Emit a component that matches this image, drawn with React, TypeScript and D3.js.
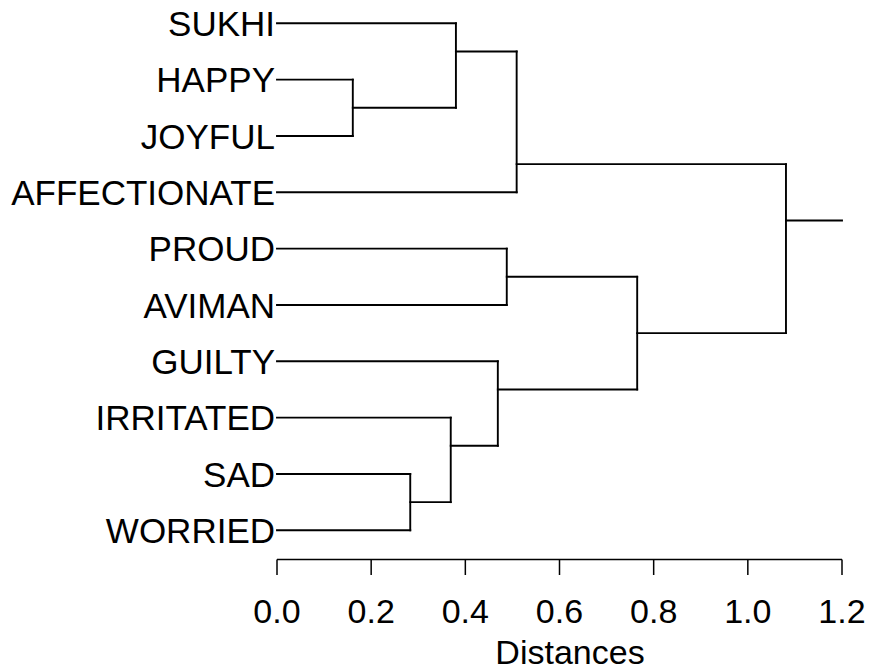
import React from "react";
import * as d3 from "d3";

const leafNames = ["SUKHI", "HAPPY", "JOYFUL", "AFFECTIONATE", "PROUD", "AVIMAN", "GUILTY", "IRRITATED", "SAD", "WORRIED"];
// merges m0..m8: left child, right child, joining distance
const mergeLeft = ["HAPPY", "SUKHI", "m1", "PROUD", "SAD", "IRRITATED", "GUILTY", "m3", "m2"];
const mergeRight = ["JOYFUL", "m0", "AFFECTIONATE", "AVIMAN", "WORRIED", "m4", "m5", "m6", "m7"];
const mergeHeight = [0.161, 0.38, 0.509, 0.488, 0.283, 0.369, 0.469, 0.765, 1.081];
const tickValues = [0, 0.2, 0.4, 0.6, 0.8, 1.0, 1.2];
const axisTitle = "Distances";

const W = 873;
const H = 672;
const FONT = "'Liberation Sans', Arial, Helvetica, sans-serif";

type Node = { id: string; height: number; y: number; first: number; last: number };

export default function App() {
  const x = d3.scaleLinear().domain([0, 1.2]).range([277, 842]);
  const y = d3.scaleLinear().domain([0, leafNames.length - 1]).range([23.3, 530.3]);

  const nodes = new Map<string, Node>();
  leafNames.forEach((n, i) => nodes.set(n, { id: n, height: 0, y: y(i), first: i, last: i }));
  const segs: [number, number, number, number][] = [];
  let root: Node | null = null;
  mergeHeight.forEach((h, i) => {
    const a = nodes.get(mergeLeft[i])!;
    const b = nodes.get(mergeRight[i])!;
    const node: Node = { id: "m" + i, height: h, y: y(a.last + 0.5), first: a.first, last: b.last };
    nodes.set(node.id, node);
    segs.push([x(a.height), a.y, x(h), a.y]);
    segs.push([x(b.height), b.y, x(h), b.y]);
    segs.push([x(h), a.y, x(h), b.y]);
    root = node;
  });
  if (root) {
    const r = root as Node;
    segs.push([x(r.height), r.y, x(x.domain()[1]), r.y]);
  }

  const axisY = 559.5;
  const [x0, x1] = x.range();

  return (
    <svg width={W} height={H} style={{ position: "absolute", left: 0, top: 0, background: "#fff" }} fontFamily={FONT}>
      <rect width={W} height={H} fill="#fff" />
      <g stroke="#000" strokeWidth={1.9} fill="none" strokeLinecap="square">
        {segs.map((s, i) => (
          <line key={i} x1={s[0]} y1={s[1]} x2={s[2]} y2={s[3]} />
        ))}
      </g>
      {leafNames.map((n, i) => (
        <text key={n} x={275} y={y(i)} dy="0.36em" textAnchor="end" fontSize={35} fill="#000">
          {n}
        </text>
      ))}
      <g stroke="#000" strokeWidth={1.5} fill="none">
        <line x1={x0} x2={x1} y1={axisY} y2={axisY} />
        {tickValues.map((t) => (
          <line key={t} x1={x(t)} x2={x(t)} y1={axisY} y2={575} />
        ))}
      </g>
      {tickValues.map((t) => (
        <text key={t} x={x(t)} y={623} textAnchor="middle" fontSize={34} fill="#000">
          {d3.format(".1f")(t)}
        </text>
      ))}
      <text x={570} y={664} textAnchor="middle" fontSize={34} fill="#000">
        {axisTitle}
      </text>
    </svg>
  );
}
